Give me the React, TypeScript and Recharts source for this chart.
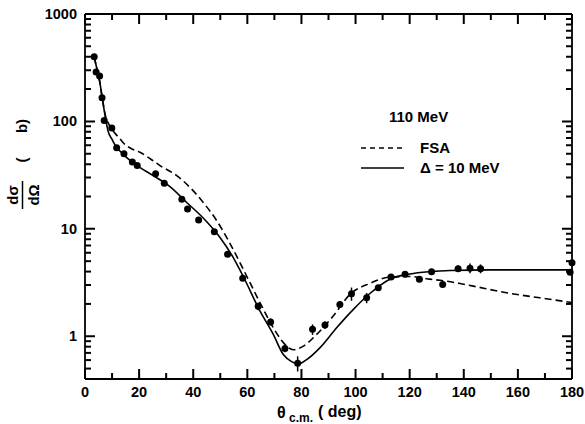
import { ComposedChart, Line, Scatter, XAxis, YAxis, ErrorBar } from 'recharts'

const W = 585
const H = 424
const FONT = '"Liberation Sans", Arial, sans-serif'
const TICK_COLOR = '#000'

// measured cross sections: angle (deg), value, error
const dataAngles = [3.4, 4.1, 5.4, 6.3, 7.1, 9.9, 11.7, 14.4, 17.5, 19.3, 26.1, 29.3, 35.8, 37.9, 42.0, 47.8, 52.7, 58.3, 64.0, 68.6, 73.9, 78.6, 84.1, 88.7, 94.2, 98.5, 104.1, 108.4, 113.1, 118.3, 123.6, 128.1, 132.2, 137.9, 142.3, 146.2, 179.3, 180]
const dataValues = [400, 289, 265, 166, 102, 87, 57, 50, 42, 38.8, 32.5, 26.5, 18.9, 15.3, 12.1, 9.4, 5.8, 3.46, 1.9, 1.36, 0.77, 0.56, 1.16, 1.27, 1.98, 2.49, 2.28, 2.83, 3.56, 3.77, 3.39, 3.99, 3.04, 4.26, 4.3, 4.26, 3.95, 4.84]
const dataErrors = [0, 0, 0, 0, 0, 0, 0, 0, 0, 0, 0, 0, 0, 0, 0, 0, 0, 0, 0.15, 0.1, 0.06, 0.09, 0.13, 0.1, 0.15, 0.35, 0.25, 0, 0, 0, 0, 0, 0.2, 0.3, 0.45, 0.4, 0, 0.3]

// FSA calculation (dashed)
const fsaAngles = [3.4, 4.5, 5.5, 6.3, 7.5, 9, 11, 12.9, 14.2, 17, 20.3, 24.6, 27.7, 33.9, 38.8, 43.7, 48.7, 53.6, 58.5, 64.7, 69.6, 73.9, 77, 80.7, 85.6, 91.8, 97.9, 105.3, 112.7, 120.1, 127.5, 131.2, 138.6, 143.5, 155.8, 168.1, 180]
const fsaValues = [400, 300, 230, 170, 115, 92, 78, 69, 63, 56, 51.6, 44, 38.8, 31.3, 24.3, 17.6, 11.9, 7.3, 4.2, 2.05, 1.2, 0.84, 0.75, 0.81, 1.04, 1.55, 2.45, 3.1, 3.55, 3.6, 3.4, 3.32, 3.1, 2.93, 2.54, 2.28, 2.06]

// Delta = 10 MeV calculation (solid)
const deltaAngles = [3.4, 4.5, 5.5, 6.3, 7.5, 8.6, 10, 11.7, 12.9, 15, 19.1, 25.2, 31.4, 37.6, 43.7, 49.9, 54.8, 58.5, 64.7, 69.6, 73.3, 76.4, 78.8, 81.9, 86.8, 93, 99.2, 105.3, 112.7, 120.1, 127.5, 135, 150, 165, 180]
const deltaValues = [400, 300, 230, 170, 110, 80, 68, 57, 53, 47, 39, 31.3, 24.7, 17.6, 12.6, 8.3, 5.4, 3.6, 1.71, 1.04, 0.675, 0.58, 0.55, 0.605, 0.78, 1.2, 1.78, 2.5, 3.4, 3.8, 4.0, 4.1, 4.15, 4.15, 4.15]

const xTicks = [0, 10, 20, 30, 40, 50, 60, 70, 80, 90, 100, 110, 120, 130, 140, 150, 160, 170, 180]
const xLabels = [0, 20, 40, 60, 80, 100, 120, 140, 160, 180]
const yTicks = [0.4, 0.5, 0.6, 0.7, 0.8, 0.9, 1, 2, 3, 4, 5, 6, 7, 8, 9, 10, 20, 30, 40, 50, 60, 70, 80, 90, 100, 200, 300, 400, 500, 600, 700, 800, 900, 1000]
const yLabels = [1, 10, 100, 1000]

const X_MIN = 0
const X_MAX = 180
const Y_MIN = 0.4
const Y_MAX = 1000

const points = dataAngles.map((x, i) => ({ x, y: dataValues[i], err: dataErrors[i] }))
const fsa = fsaAngles.map((x, i) => ({ x, y: fsaValues[i] }))
const delta = deltaAngles.map((x, i) => ({ x, y: deltaValues[i] }))

// inward tick marks on all four sides, placed through the axis scales
const bottomMarks = xTicks.map((x) => ({ x, y: Y_MIN, major: xLabels.includes(x) }))
const topMarks = xTicks.map((x) => ({ x, y: Y_MAX, major: xLabels.includes(x) }))
const leftMarks = yTicks.map((y) => ({ x: X_MIN, y, major: yLabels.includes(y) }))
const rightMarks = yTicks.map((y) => ({ x: X_MAX, y, major: yLabels.includes(y) }))

const labelStyle = { fontFamily: FONT, fontWeight: 700, fontSize: 14.5, fill: '#000' }

function UpMark({ cx, cy, payload }: any) {
  const len = payload && payload.major ? 10 : 6
  return <path d={`M${cx},${cy}L${cx},${cy - len}`} stroke={TICK_COLOR} strokeWidth={2} fill="none" />
}
function DownMark({ cx, cy, payload }: any) {
  const len = payload && payload.major ? 10 : 6
  return <path d={`M${cx},${cy}L${cx},${cy + len}`} stroke={TICK_COLOR} strokeWidth={2} fill="none" />
}
function RightMark({ cx, cy, payload }: any) {
  const len = payload && payload.major ? 10 : 6
  return <path d={`M${cx},${cy}L${cx + len},${cy}`} stroke={TICK_COLOR} strokeWidth={2} fill="none" />
}
function LeftMark({ cx, cy, payload }: any) {
  const len = payload && payload.major ? 10 : 6
  return <path d={`M${cx},${cy}L${cx - len},${cy}`} stroke={TICK_COLOR} strokeWidth={2} fill="none" />
}

function XLabel({ x, y, payload }: any) {
  if (!xLabels.includes(payload.value)) return <g />
  return (
    <text x={x} y={y + 18} textAnchor="middle" style={labelStyle}>
      {payload.value}
    </text>
  )
}

function YLabel({ x, y, payload }: any) {
  if (!yLabels.includes(payload.value)) return <g />
  return (
    <text x={x - 8} y={y + 5} textAnchor="end" style={labelStyle}>
      {payload.value}
    </text>
  )
}

function Dot({ cx, cy }: any) {
  return <circle cx={cx} cy={cy} r={3.5} fill="#000" />
}

const axisLine = { stroke: '#000', strokeWidth: 1.8 }

export default function App() {
  return (
    <div style={{ position: 'absolute', left: 0, top: 0, width: W, height: H, background: '#fff' }}>
      <ComposedChart width={W} height={H} margin={{ top: 13, right: 12, bottom: 15, left: 25 }}>
        <XAxis xAxisId="b" dataKey="x" type="number" domain={[X_MIN, X_MAX]} ticks={xTicks} interval={0} height={30}
          tickSize={0} tickMargin={0} axisLine={axisLine} tickLine={false} tick={<XLabel />} />
        <XAxis xAxisId="t" orientation="top" dataKey="x" type="number" domain={[X_MIN, X_MAX]} height={1}
          axisLine={axisLine} tickLine={false} tick={false} />
        <YAxis yAxisId="l" dataKey="y" type="number" scale="log" domain={[Y_MIN, Y_MAX]} allowDataOverflow
          ticks={yTicks} interval={0} width={60} tickSize={0} tickMargin={0} axisLine={axisLine} tickLine={false}
          tick={<YLabel />} />
        <YAxis yAxisId="r" orientation="right" dataKey="y" type="number" scale="log" domain={[Y_MIN, Y_MAX]}
          allowDataOverflow width={1} axisLine={axisLine} tickLine={false} tick={false} />
        <Scatter xAxisId="b" yAxisId="l" data={bottomMarks} dataKey="y" shape={UpMark} isAnimationActive={false} />
        <Scatter xAxisId="b" yAxisId="l" data={topMarks} dataKey="y" shape={DownMark} isAnimationActive={false} />
        <Scatter xAxisId="b" yAxisId="l" data={leftMarks} dataKey="y" shape={RightMark} isAnimationActive={false} />
        <Scatter xAxisId="b" yAxisId="l" data={rightMarks} dataKey="y" shape={LeftMark} isAnimationActive={false} />
        <Line xAxisId="t" yAxisId="r" data={fsa} dataKey="y" type="monotone" stroke="#000" strokeWidth={1.6}
          strokeDasharray="7 4" dot={false} isAnimationActive={false} />
        <Line xAxisId="b" yAxisId="l" data={delta} dataKey="y" type="monotone" stroke="#000" strokeWidth={1.6}
          dot={false} isAnimationActive={false} />
        <Scatter xAxisId="b" yAxisId="l" data={points} dataKey="y" shape={<Dot />} isAnimationActive={false}>
          <ErrorBar dataKey="err" direction="y" width={0} stroke="#000" strokeWidth={1.5} />
        </Scatter>
      </ComposedChart>

      {/* titles and legend */}
      <svg width={W} height={H} style={{ position: 'absolute', left: 0, top: 0, pointerEvents: 'none' }}>
        <g style={{ fontFamily: FONT, fontWeight: 700, fill: '#000' }}>
          <text x={389} y={122} fontSize={15}>110 MeV</text>
          <line x1={361} y1={148} x2={404} y2={148} stroke="#000" strokeWidth={1.5} strokeDasharray="5 4" />
          <text x={420} y={153} fontSize={15}>FSA</text>
          <line x1={361} y1={168} x2={404} y2={168} stroke="#000" strokeWidth={1.5} />
          <text x={420} y={173} fontSize={15}>{'\u0394 = 10 MeV'}</text>
          <text x={277} y={418} fontSize={16}>θ</text>
          <text x={289} y={422} fontSize={12}>c.m.</text>
          <text x={318} y={417} fontSize={16}>( deg)</text>
          <text transform="translate(18,195) rotate(-90)" textAnchor="middle" fontSize={15}>dσ</text>
          <line x1={22.5} y1={181} x2={22.5} y2={209} stroke="#000" strokeWidth={1.5} />
          <text transform="translate(39,195) rotate(-90)" textAnchor="middle" fontSize={15}>dΩ</text>
          <text transform="translate(27,160) rotate(-90)" textAnchor="middle" fontSize={15}>(</text>
          <text transform="translate(27,126) rotate(-90)" textAnchor="middle" fontSize={15}>b)</text>
        </g>
      </svg>
    </div>
  )
}
